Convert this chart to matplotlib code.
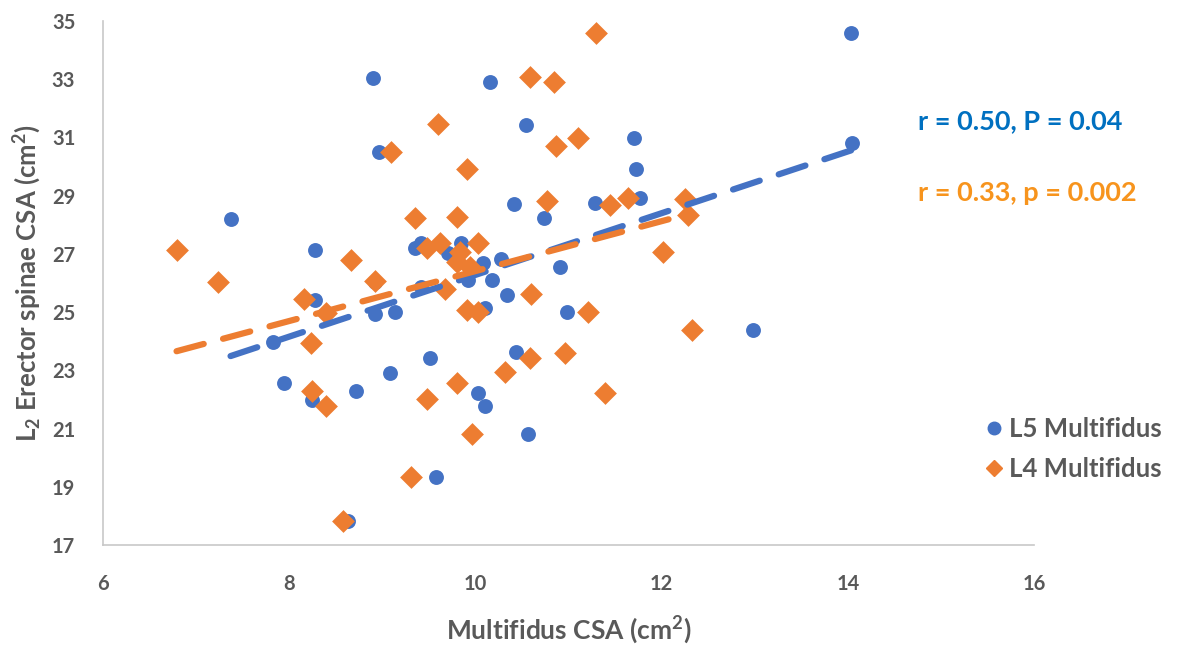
import numpy as np
import matplotlib
matplotlib.use("Agg")
import matplotlib.pyplot as plt
from matplotlib.lines import Line2D

# ---- data ----
l5_x = [8.90, 8.96, 7.37, 8.28, 10.16, 10.54, 11.70, 11.72, 10.41, 10.74, 11.28, 11.77,
        9.35, 9.42, 9.85, 9.71, 10.08, 10.28, 9.92, 10.18, 9.42, 10.34, 10.10, 10.91,
        9.14, 10.98, 9.51, 9.08, 10.44, 10.03, 10.10, 10.56, 9.58, 8.28, 7.83, 7.94,
        8.24, 8.72, 8.92, 8.63, 8.92, 14.03, 14.05, 12.98]
l5_y = [33.04, 30.51, 28.20, 27.15, 32.91, 31.43, 30.97, 29.90, 28.70, 28.24, 28.76, 28.91,
        27.19, 27.36, 27.36, 27.02, 26.67, 26.81, 26.10, 26.12, 25.87, 25.58, 25.13, 26.56,
        25.01, 25.01, 23.44, 22.91, 23.64, 22.21, 21.77, 20.83, 19.34, 25.41, 23.98, 22.57,
        21.98, 22.30, 24.95, 17.83, 26.04, 34.60, 30.82, 24.40]

l4_x = [9.09, 6.79, 8.66, 7.24, 8.92, 11.30, 10.59, 10.84, 9.60, 10.87, 11.10, 9.91,
        10.77, 11.45, 11.64, 9.35, 9.80, 9.48, 9.62, 10.03, 9.83, 9.80, 9.94, 9.67,
        10.60, 9.91, 10.03, 8.16, 8.40, 8.23, 8.25, 8.40, 8.58, 11.21, 10.59, 10.96,
        9.80, 10.32, 9.48, 11.39, 9.96, 9.31, 12.33, 12.01, 12.28, 12.25]
l4_y = [30.51, 27.15, 26.79, 26.04, 26.07, 34.58, 33.09, 32.91, 31.45, 30.70, 30.97, 29.90,
        28.81, 28.68, 28.91, 28.22, 28.25, 27.19, 27.36, 27.36, 27.07, 26.73, 26.56, 25.81,
        25.61, 25.07, 25.01, 25.44, 24.98, 23.95, 22.30, 21.77, 17.83, 25.01, 23.44, 23.60,
        22.57, 22.93, 22.03, 22.21, 20.83, 19.34, 24.40, 27.08, 28.32, 28.89]

series_names = ["L5 Multifidus", "L4 Multifidus"]
x_ticks = [6, 8, 10, 12, 14, 16]
y_ticks = [17, 19, 21, 23, 25, 27, 29, 31, 33, 35]
stat_labels = ["r = 0.50, P = 0.04", "r = 0.33, p = 0.002"]

# ---- style ----
plt.rcParams['font.family'] = ['Lato', 'DejaVu Sans']
plt.rcParams['mathtext.fontset'] = 'custom'
plt.rcParams['mathtext.rm'] = 'Lato:bold'
plt.rcParams['mathtext.it'] = 'Lato:bold'
plt.rcParams['mathtext.bf'] = 'Lato:bold'

BLUE = '#4472C4'
ORANGE = '#ED7D31'
GRAY = '#595959'

fig = plt.figure(figsize=(11.93, 6.45), dpi=100)
ax = fig.add_axes([103/1193, 1-545/645, (1034-103)/1193, (545-21)/645])

ax.scatter(l5_x, l5_y, s=115, marker='o', color=BLUE, linewidths=0, zorder=3)
ax.scatter(l4_x, l4_y, s=135, marker='D', color=ORANGE, linewidths=0, zorder=3)

# linear trendlines over each series' x-range
for xs, ys, col in [(l5_x, l5_y, BLUE), (l4_x, l4_y, ORANGE)]:
    xs = np.asarray(xs); ys = np.asarray(ys)
    k, b = np.polyfit(xs, ys, 1)
    xx = np.array([xs.min(), xs.max()])
    ax.plot(xx, k*xx + b, color=col, lw=4.5, dashes=(4.5, 3.2),
            solid_capstyle='round', dash_capstyle='round', zorder=4)

ax.set_xlim(6, 16)
ax.set_ylim(17, 35)
ax.set_xticks(x_ticks)
ax.set_yticks(y_ticks)
ax.tick_params(length=0, labelsize=14.5, labelcolor=GRAY)
ax.tick_params(axis='x', pad=21)
ax.tick_params(axis='y', pad=20)
for lab in ax.get_xticklabels() + ax.get_yticklabels():
    lab.set_fontweight('bold')

for s in ['top', 'right']:
    ax.spines[s].set_visible(False)
for s in ['left', 'bottom']:
    ax.spines[s].set_color('#C8C8C8')
    ax.spines[s].set_linewidth(1.2)

ax.set_xlabel('Multifidus CSA (cm$^{2}$)', fontsize=19, fontweight='bold', color=GRAY, labelpad=14)
ax.set_ylabel('L$_{2}$ Erector spinae CSA (cm$^{2}$)', fontsize=18.5, fontweight='bold', color=GRAY, labelpad=6)

fig.text(918/1193, 1-121/645, stat_labels[0], color='#0070C0', fontsize=19.5,
         fontweight='bold', va='center', ha='left')
fig.text(918/1193, 1-193/645, stat_labels[1], color='#F7941D', fontsize=19.5,
         fontweight='bold', va='center', ha='left')

handles = [Line2D([], [], ls='none', marker='o', color=BLUE, markersize=9),
           Line2D([], [], ls='none', marker='D', color=ORANGE, markersize=8.5)]
leg = fig.legend(handles, series_names, loc='center left',
                 bbox_to_anchor=(958/1193, 1-449/645), frameon=False,
                 prop={'size': 18.5, 'weight': 'bold'}, labelcolor=GRAY,
                 handletextpad=0.1, handlelength=1.0, labelspacing=0.6)

fig.savefig('out.png', dpi=100)
